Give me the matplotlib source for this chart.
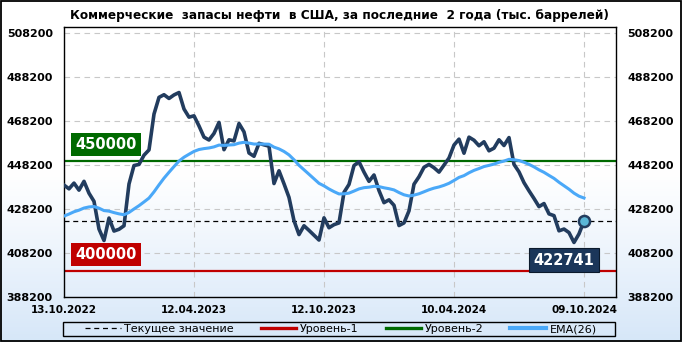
import numpy as np
import matplotlib
matplotlib.use("Agg")
import matplotlib.pyplot as plt
from matplotlib.patches import Rectangle
from matplotlib.lines import Line2D

# ---------------- data (thousand barrels, weekly) ----------------
title = "Коммерческие  запасы нефти  в США, за последние  2 года (тыс. баррелей)"
stocks = [
    439100, 437400, 440000, 436800, 440800, 435400, 431700, 419100, 413900, 424100,
    418200, 419000, 420600, 439600, 448000, 448500, 452700, 455100, 471400, 479000,
    480200, 478500, 480100, 481200, 473700, 470000, 470600, 466000, 460900, 459600,
    462600, 467600, 455200, 459700, 459200, 467100, 463300, 453700, 452200, 458100,
    457400, 456800, 439800, 445600, 439700, 433500, 422900, 416600, 420600, 418500,
    416300, 414100, 424200, 419700, 421100, 421900, 435800, 439400, 448000, 449700,
    445000, 440800, 443700, 436600, 431100, 432400, 429900, 420700, 421900, 427400,
    439500, 442900, 447200, 448500, 447000, 445000, 448200, 451400, 457300, 460000,
    453600, 460900, 459500, 457000, 458800, 454700, 455900, 459700, 457100, 460700,
    448500, 445100, 440200, 436500, 433000, 429300, 430700, 426000, 425200, 418300,
    419100, 417500, 413000, 416900, 422741,
]
tick_labels = ["13.10.2022", "12.04.2023", "12.10.2023", "10.04.2024", "09.10.2024"]
tick_step = 26
y_ticks = [388200, 408200, 428200, 448200, 468200, 488200, 508200]
level_1 = 400000
level_2 = 450000
ema_span = 26
ema_start = 425000  # EMA value at the first week
legend_labels = ["Текущее значение", "Уровень-1", "Уровень-2", "EMA(26)"]

# EMA(26) of the series
alpha = 2.0 / (ema_span + 1)
ema = [ema_start]
for v in stocks[1:]:
    ema.append(alpha * v + (1 - alpha) * ema[-1])

# ---------------- figure ----------------
W, H = 682, 342
fig = plt.figure(figsize=(W / 100, H / 100), dpi=100)

# background gradient
bg = fig.add_axes([0, 0, 1, 1], zorder=-10)
t = np.linspace(0, 1, 256)
ramp = np.clip((t - 0.5) / 0.5, 0, 1) ** 1.1
top_c = np.array([1.0, 1.0, 1.0])
bot_c = np.array([0.84, 0.905, 0.975])
img = top_c[None, :] * (1 - ramp[:, None]) + bot_c[None, :] * ramp[:, None]
bg.imshow(img[:, None, :], aspect="auto", extent=[0, 1, 0, 1])
bg.set_axis_off()

ax = fig.add_axes([64 / W, 1 - 297 / H, (616 - 64) / W, (297 - 27) / H])
ax.set_facecolor("none")

x = np.arange(len(stocks))
navy = "#223c5e"
blue = "#4aa8f8"
green = "#006a00"
red = "#c00000"

ax.axhline(level_1, color=red, lw=1.6, zorder=2)
ax.axhline(level_2, color=green, lw=1.6, zorder=2)
ax.axhline(stocks[-1], color="black", lw=0.9, ls=(0, (4, 3)), zorder=2)

ax.plot(x, stocks, color=navy, lw=2.6, zorder=4, solid_joinstyle="round")
ax.plot(x, ema, color=blue, lw=2.2, zorder=5)
ax.plot(x[-1], stocks[-1], "o", ms=8, mfc="#5ab6d6", mec=navy, mew=1.8, zorder=6)

ax.set_xlim(0, 110.4)
ax.set_ylim(388200, 511000)

tick_pos = [i * tick_step for i in range(len(tick_labels))]
ax.set_xticks(tick_pos)
ax.set_xticklabels(tick_labels)
ax.set_yticks(y_ticks)
ax.set_yticklabels([str(v) for v in y_ticks])
ax.grid(True, color="#c8c8c8", ls=(0, (5, 4)), lw=0.8, zorder=0)
ax.set_axisbelow(True)
ax.tick_params(axis="x", length=0, pad=5.8, labelsize=7.5)
ax.tick_params(axis="y", length=0, pad=8, labelsize=8,
               left=True, right=True, labelleft=True, labelright=True)
for lab in ax.get_xticklabels() + ax.get_yticklabels():
    lab.set_fontweight("bold")
for sp in ax.spines.values():
    sp.set_color("black")
    sp.set_linewidth(1.0)

# level boxes
ax.annotate(str(level_2), xy=(0, level_2), xycoords=("axes fraction", "data"),
            xytext=(11, 9), textcoords="offset pixels", ha="left", va="bottom",
            color="white", fontsize=10.5, fontweight="bold", zorder=7,
            bbox=dict(boxstyle="square,pad=0.3", fc=green, ec="none"))
ax.annotate(str(level_1), xy=(0, level_1), xycoords=("axes fraction", "data"),
            xytext=(11, 9), textcoords="offset pixels", ha="left", va="bottom",
            color="white", fontsize=10.5, fontweight="bold", zorder=7,
            bbox=dict(boxstyle="square,pad=0.3", fc=red, ec="none"))
ax.annotate(str(stocks[-1]), xy=(x[-1], stocks[-1]), xycoords="data",
            xytext=(-20, -39), textcoords="offset pixels", ha="center", va="center",
            color="white", fontsize=10.5, fontweight="bold", zorder=7,
            bbox=dict(boxstyle="square,pad=0.3", fc="#1b365a", ec="#0b1a2c", lw=0.8))

# title
fig.text(339.5 / W, 1 - 15 / H, title, ha="center", va="center",
         fontsize=8.75, fontweight="bold")

# legend
handles = [
    Line2D([], [], color="black", lw=0.9, ls=(0, (4, 3))),
    Line2D([], [], color=red, lw=2.4),
    Line2D([], [], color=green, lw=2.4),
    Line2D([], [], color=blue, lw=3.0),
]
fig.legend(handles, legend_labels, loc="center", bbox_to_anchor=(341 / W, 1 - 329 / H),
           ncol=4, frameon=False, fontsize=8, handlelength=3.2, handletextpad=0.35,
           columnspacing=2.4, borderpad=0, borderaxespad=0)
fig.add_artist(Rectangle((63 / W, 1 - 336 / H), 552 / W, 14 / H,
                         transform=fig.transFigure, fill=False, ec="black", lw=1.0))
fig.add_artist(Rectangle((0.6 / W, 0.6 / H), 1 - 1.2 / W, 1 - 1.2 / H,
                         transform=fig.transFigure, fill=False, ec="black", lw=1.3))

fig.savefig("out.png", dpi=100)
